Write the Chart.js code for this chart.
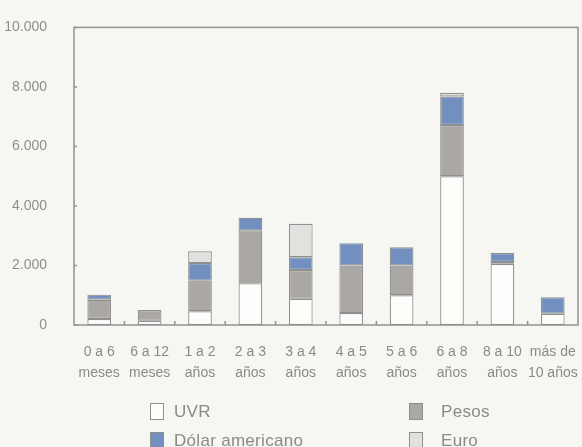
<!DOCTYPE html>
<html>
<head>
<meta charset="utf-8">
<script src="https://cdn.jsdelivr.net/npm/chart.js@4"></script>
<style>
  body { margin: 0; background: #f6f7f2; }
  #wrap { position: relative; width: 582px; height: 447px; overflow: hidden; }
  #chart { position: absolute; left: 0; top: 0; }
  .item { position: absolute; display: flex; align-items: center; height: 17px;
          font-family: 'Liberation Sans Narrow', 'Liberation Sans', sans-serif; font-size: 17px;
          letter-spacing: 0.3px; color: #8a8a8a; }
  .box { width: 12px; height: 15px; border: 1px solid #8f8f8f; margin-right: 10px; }
</style>
</head>
<body>
<div id="wrap">
  <canvas id="chart" width="582" height="447"></canvas>
  <div id="legend"></div>
</div>
<script>
// Vencimientos por plazo
const categorias = [
  ['0 a 6', 'meses'], ['6 a 12', 'meses'], ['1 a 2', 'años'], ['2 a 3', 'años'], ['3 a 4', 'años'],
  ['4 a 5', 'años'], ['5 a 6', 'años'], ['6 a 8', 'años'], ['8 a 10', 'años'], ['más de', '10 años']
];
const uvr   = [200, 140, 460, 1400, 880, 400, 1000, 5000, 2060, 380];
const pesos = [650, 360, 1030, 1780, 970, 1600, 1000, 1720, 60, 0];
const dolar = [170, 0, 590, 420, 430, 750, 610, 960, 300, 550];
const euro  = [0, 0, 400, 0, 1120, 0, 0, 120, 0, 0];
const yTickLabels = ['0', '2.000', '4.000', '6.000', '8.000', '10.000'];

const series = [
  { label: 'UVR', data: uvr, color: '#fdfdfb' },
  { label: 'Pesos', data: pesos, color: '#aaa7a4' },
  { label: 'Dólar americano', data: dolar, color: '#7190bf' },
  { label: 'Euro', data: euro, color: '#e1e2df' }
];

// Marco del área y marcas de división
const marco = {
  id: 'marco',
  beforeDatasetsDraw(chart) {
    const { ctx, chartArea: a, scales } = chart;
    ctx.save();
    ctx.strokeStyle = '#929292';
    ctx.lineWidth = 1.5;
    ctx.strokeRect(a.left, a.top, a.right - a.left, a.bottom - a.top);
    ctx.beginPath();
    scales.y.ticks.forEach(t => {
      const y = scales.y.getPixelForValue(t.value);
      ctx.moveTo(a.left, y);
      ctx.lineTo(a.left + 3, y);
    });
    for (let i = 1; i < categorias.length; i++) {
      const x = (scales.x.getPixelForValue(i - 1) + scales.x.getPixelForValue(i)) / 2;
      ctx.moveTo(x, a.bottom);
      ctx.lineTo(x, a.bottom - 4);
    }
    ctx.stroke();
    ctx.restore();
  }
};

const chart = new Chart(document.getElementById('chart'), {
  type: 'bar',
  data: {
    labels: categorias,
    datasets: series.map(s => ({
      label: s.label,
      data: s.data,
      backgroundColor: s.color,
      borderColor: '#8f8f8f',
      borderWidth: 1.2,
      borderSkipped: false,
      barPercentage: 0.47,
      categoryPercentage: 1
    }))
  },
  options: {
    responsive: false,
    animation: false,
    devicePixelRatio: 1,
    layout: { padding: { top: 23, right: 4, left: 0, bottom: 0 } },
    plugins: { legend: { display: false }, tooltip: { enabled: false } },
    scales: {
      x: {
        stacked: true,
        grid: { display: false },
        border: { display: false },
        ticks: {
          color: '#8a8a8a',
          font: { family: "'Liberation Sans Narrow', 'Liberation Sans', sans-serif", size: 14, lineHeight: 1.5 },
          padding: 9,
          maxRotation: 0,
          autoSkip: false
        },
        afterFit(scale) {
          scale.height = 122;
          scale.paddingLeft = 0;
          scale.paddingRight = 0;
        }
      },
      y: {
        stacked: true,
        min: 0,
        max: 10000,
        grid: { display: false },
        border: { display: false },
        ticks: {
          stepSize: 2000,
          color: '#8e8e8e',
          font: { family: "'Liberation Sans', sans-serif", size: 14 },
          padding: 19,
          callback: v => yTickLabels[v / 2000]
        },
        afterFit(scale) { scale.width = 74; }
      }
    }
  },
  plugins: [marco]
});

// Leyenda en dos columnas
const posiciones = [[150, 403], [409, 403], [150, 432], [409, 432]];
const gaps = [10, 18, 10, 18];
const legend = document.getElementById('legend');
series.forEach((s, i) => {
  const item = document.createElement('div');
  item.className = 'item';
  item.style.left = posiciones[i][0] + 'px';
  item.style.top = posiciones[i][1] + 'px';
  item.innerHTML = '<span class="box" style="background:' + s.color + ';margin-right:' + gaps[i] + 'px"></span>' + s.label;
  legend.appendChild(item);
});
</script>
</body>
</html>
